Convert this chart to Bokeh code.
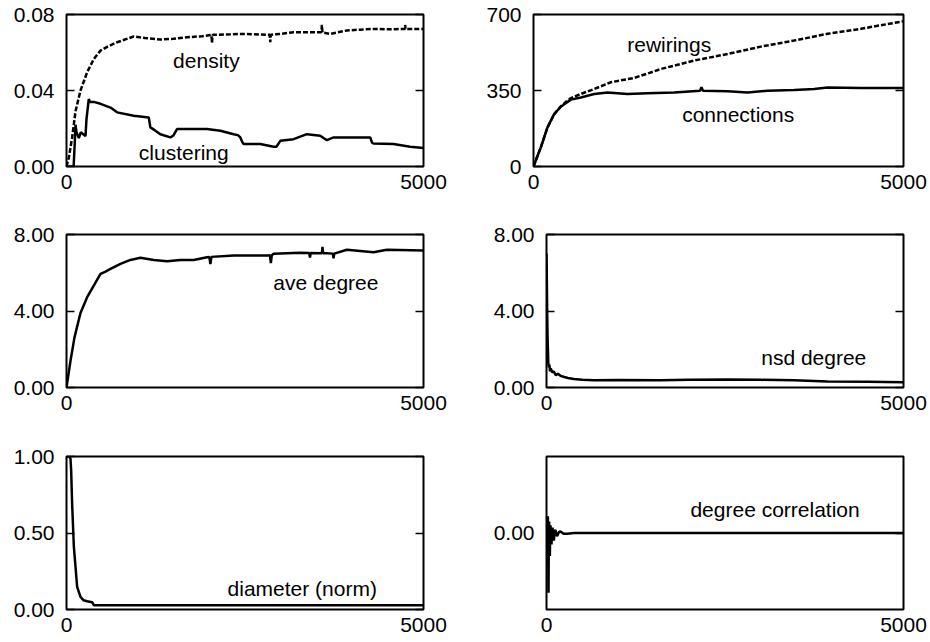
from bokeh.plotting import figure
from bokeh.layouts import column, row
from bokeh.models import (Range1d, FixedTicker, PrintfTickFormatter, LinearAxis, Label,
                          CustomLabelingPolicy)
from bokeh.embed import file_html
from bokeh.resources import INLINE

# ---------------- data ----------------
x_ticks = [0, 5000]

dens_x = [0, 33, 79, 126, 196, 289, 383, 476, 569, 709,
          942, 1100, 1315, 1500, 1688, 1900, 2030, 2038, 2046, 2062,
          2300, 2435, 2600, 2808, 2846, 2854, 2862, 3000, 3181, 3400,
          3554, 3570, 3577, 3585, 3694, 3800, 3927, 4100, 4300, 4500,
          4674, 4740, 4743, 4748, 5000]
dens_y = [0, 0.0047, 0.0153, 0.029, 0.040, 0.0496, 0.0566, 0.061, 0.063, 0.0654,
          0.0684, 0.0676, 0.0668, 0.0672, 0.068, 0.0686, 0.0692, 0.065, 0.0692, 0.0693,
          0.0696, 0.0698, 0.0696, 0.0693, 0.0694, 0.0655, 0.0694, 0.0698, 0.0707, 0.0706,
          0.0707, 0.0707, 0.0745, 0.0705, 0.0698, 0.0706, 0.0716, 0.0720, 0.0724, 0.0722,
          0.0724, 0.0724, 0.0745, 0.0724, 0.0724]

clus_x = [0, 100, 115, 126, 140, 173, 200, 266, 280, 312,
          330, 382, 476, 616, 709, 942, 1152, 1175, 1240, 1315,
          1455, 1500, 1548, 1688, 1968, 2155, 2341, 2400, 2435, 2460,
          2481, 2714, 2901, 2940, 2994, 3181, 3367, 3554, 3600, 3647,
          3741, 4254, 4280, 4300, 4580, 4813, 5000]
clus_y = [0, 0, 0.012, 0.022, 0.018, 0.015, 0.018, 0.016, 0.025, 0.0355,
          0.034, 0.034, 0.033, 0.031, 0.0285, 0.0267, 0.0258, 0.0206, 0.019, 0.017,
          0.0153, 0.0165, 0.0197, 0.0197, 0.0197, 0.0188, 0.017, 0.0165, 0.0153, 0.013,
          0.0118, 0.0118, 0.0104, 0.0104, 0.0135, 0.0144, 0.017, 0.0162, 0.0150, 0.0139,
          0.0153, 0.0153, 0.0125, 0.0121, 0.0118, 0.0104, 0.0097]

conn_x = [0, 50, 99, 189, 279, 369, 440, 505, 640, 820,
          1000, 1270, 1541, 1901, 2250, 2270, 2290, 2622, 2892, 3162,
          3523, 3793, 3973, 4424, 5000]
conn_y = [0, 45, 88, 180, 241, 275, 292, 308, 318, 334,
          341, 334, 337, 341, 349, 365, 349, 346, 341, 349,
          352, 357, 364, 361, 361]

rew_x = [0, 50, 99, 189, 279, 369, 440, 505, 640, 820,
         1045, 1360, 1451, 1721, 2171, 2622, 3072, 3523, 3973, 4424, 5000]
rew_y = [0, 45, 88, 180, 241, 277, 298, 315, 334, 357,
         388, 408, 418, 449, 488, 518, 552, 580, 611, 634, 669]

deg_x = [0, 56, 112, 196, 289, 382, 476, 540, 616, 756,
         895, 1035, 1222, 1409, 1595, 1782, 1968, 2000, 2015, 2030,
         2341, 2808, 2850, 2862, 2875, 2901, 3274, 3400, 3410, 3420,
         3577, 3585, 3595, 3647, 3730, 3740, 3750, 3927, 4300, 4487,
         5000]
deg_y = [0, 1.40, 2.62, 3.90, 4.72, 5.33, 5.94, 6.05, 6.20, 6.46,
         6.67, 6.78, 6.67, 6.60, 6.67, 6.67, 6.81, 6.83, 6.45, 6.83,
         6.90, 6.90, 6.92, 6.50, 6.92, 6.99, 7.04, 7.03, 6.80, 7.03,
         7.02, 7.35, 7.02, 7.02, 7.00, 6.75, 7.00, 7.20, 7.07, 7.20,
         7.16]

nsd_x = [0, 5, 10, 15, 19, 25, 33, 40, 50, 60,
         79, 100, 130, 160, 196, 250, 300, 383, 500, 664,
         1000, 1598, 2000, 2533, 3000, 3467, 3935, 4500, 5000]
nsd_y = [7.0, 5.5, 3.8, 2.6, 2.1, 1.3, 1.05, 1.2, 0.85, 1.0,
         0.79, 0.85, 0.65, 0.72, 0.61, 0.55, 0.50, 0.44, 0.40, 0.38,
         0.39, 0.38, 0.40, 0.42, 0.40, 0.38, 0.31, 0.30, 0.28]

diam_x = [0, 40, 56, 65, 79, 103, 126, 149, 196, 240, 289, 359, 382, 5000]
diam_y = [1.0, 1.0, 0.985, 0.91, 0.69, 0.41, 0.28, 0.148, 0.083, 0.06, 0.054, 0.048, 0.028, 0.028]

corr_x = [0, 15, 19, 24, 28, 33, 37, 42, 47, 52,
          56, 63, 70, 77, 84, 93, 103, 115, 126, 138,
          150, 173, 196, 240, 290, 383, 5000]
corr_y = [0.0, 0.05, 0.22, -0.2, -0.78, 0.1, 0.15, -0.1, -0.3, 0.05,
          0.1, -0.05, -0.15, 0.02, 0.07, -0.04, -0.1, 0.02, 0.04, -0.02,
          -0.04, 0.01, 0.02, -0.01, -0.01, 0.0, 0.0]

# ---------------- styling ----------------
FONT = "Liberation Sans"
FS = "21px"
LW = 2.5
DASH = "5 2"


def panel(w, h, left, right, top, bottom, yr, yticks, yfmt):
    p = figure(width=w, height=h, x_range=Range1d(0, 5000), y_range=Range1d(*yr),
               output_backend="svg", toolbar_location=None,
               min_border_left=left, min_border_right=right,
               min_border_top=top, min_border_bottom=bottom)
    p.grid.visible = False
    p.outline_line_color = "black"
    p.outline_line_width = 2
    p.outline_line_alpha = 1
    p.background_fill_color = "white"
    p.border_fill_color = "white"

    xa = p.xaxis[0]
    xa.ticker = FixedTicker(ticks=x_ticks)
    xa.formatter = PrintfTickFormatter(format="%d")
    xa.major_tick_in = 0
    xa.major_tick_out = 0
    xa.minor_tick_line_color = None
    xa.axis_line_color = None
    xa.major_label_standoff = 8
    xa.major_label_text_font = FONT
    xa.major_label_text_font_size = FS
    xa.major_label_text_color = "black"

    ya = p.yaxis[0]
    ya.ticker = FixedTicker(ticks=yticks)
    ya.formatter = PrintfTickFormatter(format=yfmt)
    ya.major_tick_in = 8
    ya.major_tick_out = 0
    ya.major_tick_line_width = 1.5
    ya.major_tick_line_color = "black"
    ya.minor_tick_line_color = None
    ya.axis_line_color = None
    ya.major_label_standoff = 12
    ya.major_label_text_font = FONT
    ya.major_label_text_font_size = FS
    ya.major_label_text_color = "black"

    # mirrored inward ticks on the right edge, no labels drawn
    ra = LinearAxis(ticker=FixedTicker(ticks=yticks), major_tick_in=8, major_tick_out=0,
                    major_tick_line_width=1.5, major_tick_line_color="black",
                    minor_tick_line_color=None, axis_line_color=None,
                    major_label_standoff=0,
                    major_label_policy=CustomLabelingPolicy(
                        code="const ids = [...indices]; for (const i of ids) indices.unset(i)"))
    p.add_layout(ra, "right")
    return p


def label(p, x, y, text):
    p.add_layout(Label(x=x, y=y, text=text, text_font=FONT, text_font_size=FS,
                       text_color="black", text_align="center", text_baseline="middle"))


# top-left: density / clustering
p1 = panel(465, 220, 66, 42, 14, 54, (0, 0.08), [0, 0.04, 0.08], "%.2f")
p1.line(dens_x, dens_y, line_color="black", line_width=LW, line_dash=DASH)
p1.line(clus_x, clus_y, line_color="black", line_width=LW)
label(p1, 1959, 0.0557, "density")
label(p1, 1642, 0.0074, "clustering")

# top-right: rewirings / connections
p2 = panel(465, 220, 68, 27, 14, 54, (0, 700), [0, 350, 700], "%d")
p2.line(rew_x, rew_y, line_color="black", line_width=LW, line_dash=DASH)
p2.line(conn_x, conn_y, line_color="black", line_width=LW)
label(p2, 1834, 564, "rewirings")
label(p2, 2766, 241, "connections")

# middle-left: ave degree
p3 = panel(465, 220, 66, 42, 14, 53, (0, 8), [0, 4, 8], "%.2f")
p3.line(deg_x, deg_y, line_color="black", line_width=LW)
label(p3, 3633, 5.50, "ave degree")

# middle-right: nsd degree
p4 = panel(465, 220, 81, 27, 14, 53, (0, 8), [0, 4, 8], "%.2f")
p4.line(nsd_x, nsd_y, line_color="black", line_width=LW)
label(p4, 3743, 1.57, "nsd degree")

# bottom-left: diameter (norm)
p5 = panel(465, 202, 66, 42, 16, 33, (0, 1), [0, 0.5, 1], "%.2f")
p5.line(diam_x, diam_y, line_color="black", line_width=LW)
label(p5, 3302, 0.137, "diameter (norm)")

# bottom-right: degree correlation
p6 = panel(465, 202, 81, 27, 16, 33, (-1, 1), [0], "%.2f")
p6.line(corr_x, corr_y, line_color="black", line_width=LW)
label(p6, 3201, 0.313, "degree correlation")

layout = column(row(p1, p2), row(p3, p4), row(p5, p6))

open("out.html", "w").write(file_html(layout, INLINE))
